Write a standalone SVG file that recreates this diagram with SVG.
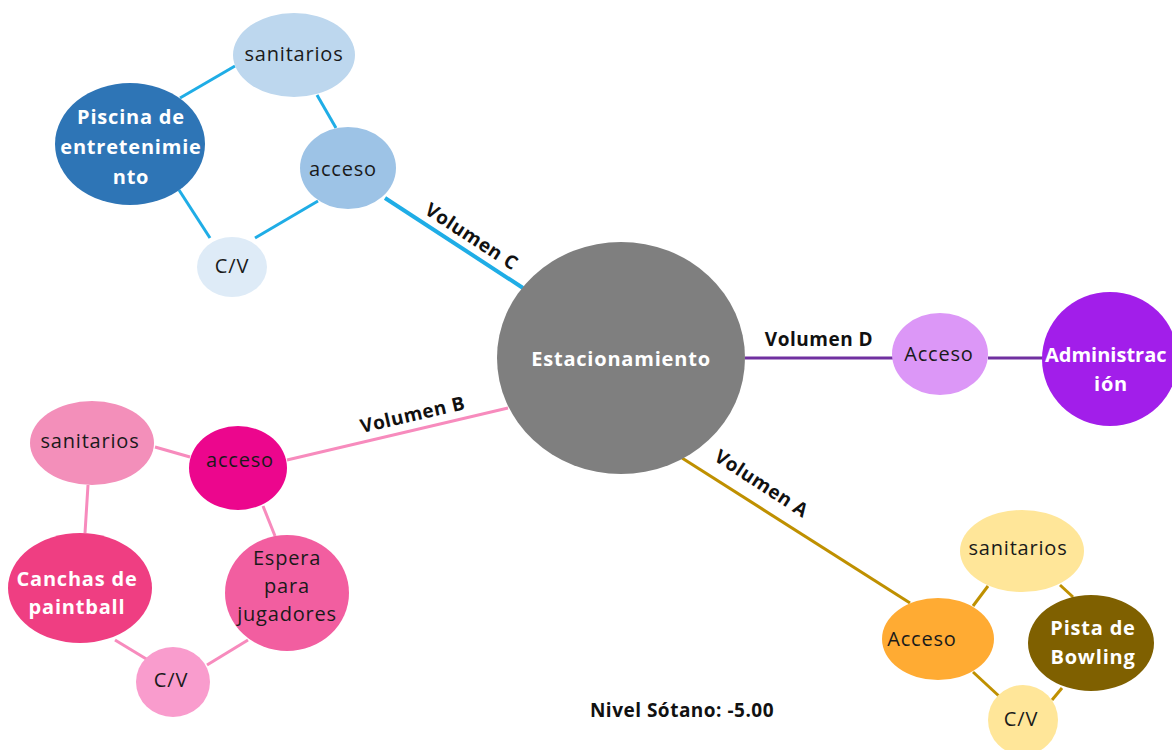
<svg xmlns="http://www.w3.org/2000/svg" width="1172" height="750" viewBox="0 0 1172 750">
  <style>
    text { font-family: "Open Sans", "Liberation Sans", sans-serif; font-size: 20px; letter-spacing: 0.8px; text-anchor: middle; fill: #1a1a1a; }
    .w { fill: #ffffff; font-weight: bold; }
    .lbl { font-weight: bold; font-size: 19px; fill: #111111; letter-spacing: 0.5px; }
    .c { stroke-width: 3; fill: none; }
    .blue { stroke: #1fade6; }
    .purple { stroke: #7030a0; }
    .pink { stroke: #f78bbd; }
    .gold { stroke: #bf9000; }
  </style>

  <!-- connectors -->
  <g id="connectors">
    <!-- Volumen C -->
    <line class="c blue" x1="385" y1="198" x2="523" y2="288" style="stroke-width:4"/>
    <line class="c blue" x1="235" y1="66" x2="180" y2="98"/>
    <line class="c blue" x1="317" y1="95" x2="336" y2="128"/>
    <line class="c blue" x1="179" y1="190" x2="210" y2="238"/>
    <line class="c blue" x1="318" y1="201" x2="255" y2="238"/>
    <!-- Volumen D -->
    <line class="c purple" x1="745" y1="358" x2="893" y2="358"/>
    <line class="c purple" x1="988" y1="358" x2="1045" y2="358"/>
    <!-- Volumen B -->
    <line class="c pink" x1="287" y1="460" x2="508" y2="408"/>
    <line class="c pink" x1="155" y1="447" x2="190" y2="457"/>
    <line class="c pink" x1="88" y1="485" x2="85" y2="533"/>
    <line class="c pink" x1="263" y1="506" x2="275" y2="536"/>
    <line class="c pink" x1="115" y1="640" x2="148" y2="660"/>
    <line class="c pink" x1="207" y1="665" x2="248" y2="640"/>
    <!-- Volumen A -->
    <line class="c gold" x1="682" y1="458" x2="910" y2="603"/>
    <line class="c gold" x1="973" y1="606" x2="988" y2="586"/>
    <line class="c gold" x1="1060" y1="585" x2="1073" y2="597"/>
    <line class="c gold" x1="973" y1="672" x2="1000" y2="697"/>
    <line class="c gold" x1="1062" y1="688" x2="1052" y2="700"/>
  </g>

  <!-- connector labels -->
  <g id="labels">
    <text class="lbl" transform="translate(468 242) rotate(33)">Volumen C</text>
    <text class="lbl" x="819" y="346">Volumen D</text>
    <text class="lbl" transform="translate(414 421) rotate(-13)">Volumen B</text>
    <text class="lbl" transform="translate(758 489) rotate(33)">Volumen A</text>
    <text class="lbl" x="682" y="717">Nivel Sótano: -5.00</text>
  </g>

  <!-- central node -->
  <g id="estacionamiento">
    <ellipse cx="621" cy="358" rx="124" ry="116" fill="#7f7f7f"/>
    <text class="w" x="621" y="366">Estacionamiento</text>
  </g>

  <!-- Volumen C cluster -->
  <g id="c-sanitarios">
    <ellipse cx="294" cy="55" rx="61" ry="42" fill="#bdd7ee"/>
    <text x="294" y="61">sanitarios</text>
  </g>
  <g id="c-piscina">
    <ellipse cx="130" cy="144" rx="75" ry="61" fill="#2e75b6"/>
    <text class="w" x="131" y="124">Piscina de</text>
    <text class="w" x="131" y="154">entretenimie</text>
    <text class="w" x="131" y="184">nto</text>
  </g>
  <g id="c-acceso">
    <ellipse cx="348" cy="168" rx="48" ry="41" fill="#9dc3e6"/>
    <text x="343" y="176">acceso</text>
  </g>
  <g id="c-cv">
    <ellipse cx="232" cy="267" rx="35" ry="30" fill="#deebf7"/>
    <text x="232" y="273">C/V</text>
  </g>

  <!-- Volumen D cluster -->
  <g id="d-acceso">
    <ellipse cx="940" cy="354" rx="48" ry="41" fill="#dc97f7"/>
    <text x="939" y="361">Acceso</text>
  </g>
  <g id="d-administracion">
    <ellipse cx="1110" cy="359" rx="68" ry="67" fill="#a21eea"/>
    <text class="w" x="1045" y="362" style="text-anchor:start;letter-spacing:0">Administrac</text>
    <text class="w" x="1111" y="391">ión</text>
  </g>

  <!-- Volumen B cluster -->
  <g id="b-sanitarios">
    <ellipse cx="92" cy="443" rx="62" ry="42" fill="#f38fba"/>
    <text x="90" y="448">sanitarios</text>
  </g>
  <g id="b-acceso">
    <ellipse cx="238" cy="468" rx="49" ry="42" fill="#ec068d"/>
    <text x="240" y="467">acceso</text>
  </g>
  <g id="b-canchas">
    <ellipse cx="80" cy="588" rx="72" ry="55" fill="#ef3e82"/>
    <text class="w" x="77" y="586">Canchas de</text>
    <text class="w" x="77" y="614">paintball</text>
  </g>
  <g id="b-espera">
    <ellipse cx="287" cy="593" rx="62" ry="58" fill="#f25ea0"/>
    <text x="287" y="565">Espera</text>
    <text x="287" y="593">para</text>
    <text x="287" y="621">jugadores</text>
  </g>
  <g id="b-cv">
    <ellipse cx="173" cy="682" rx="37" ry="35" fill="#f99ccd"/>
    <text x="171" y="687">C/V</text>
  </g>

  <!-- Volumen A cluster -->
  <g id="a-acceso">
    <ellipse cx="938" cy="639" rx="56" ry="41" fill="#ffab33"/>
    <text x="922" y="646">Acceso</text>
  </g>
  <g id="a-sanitarios">
    <ellipse cx="1022" cy="551" rx="62" ry="41" fill="#ffe699"/>
    <text x="1018" y="555">sanitarios</text>
  </g>
  <g id="a-pista">
    <ellipse cx="1091" cy="643" rx="63" ry="48" fill="#7f6000"/>
    <text class="w" x="1093" y="635">Pista de</text>
    <text class="w" x="1093" y="664">Bowling</text>
  </g>
  <g id="a-cv">
    <ellipse cx="1023" cy="720" rx="35" ry="35" fill="#ffe699"/>
    <text x="1021" y="726">C/V</text>
  </g>
</svg>
